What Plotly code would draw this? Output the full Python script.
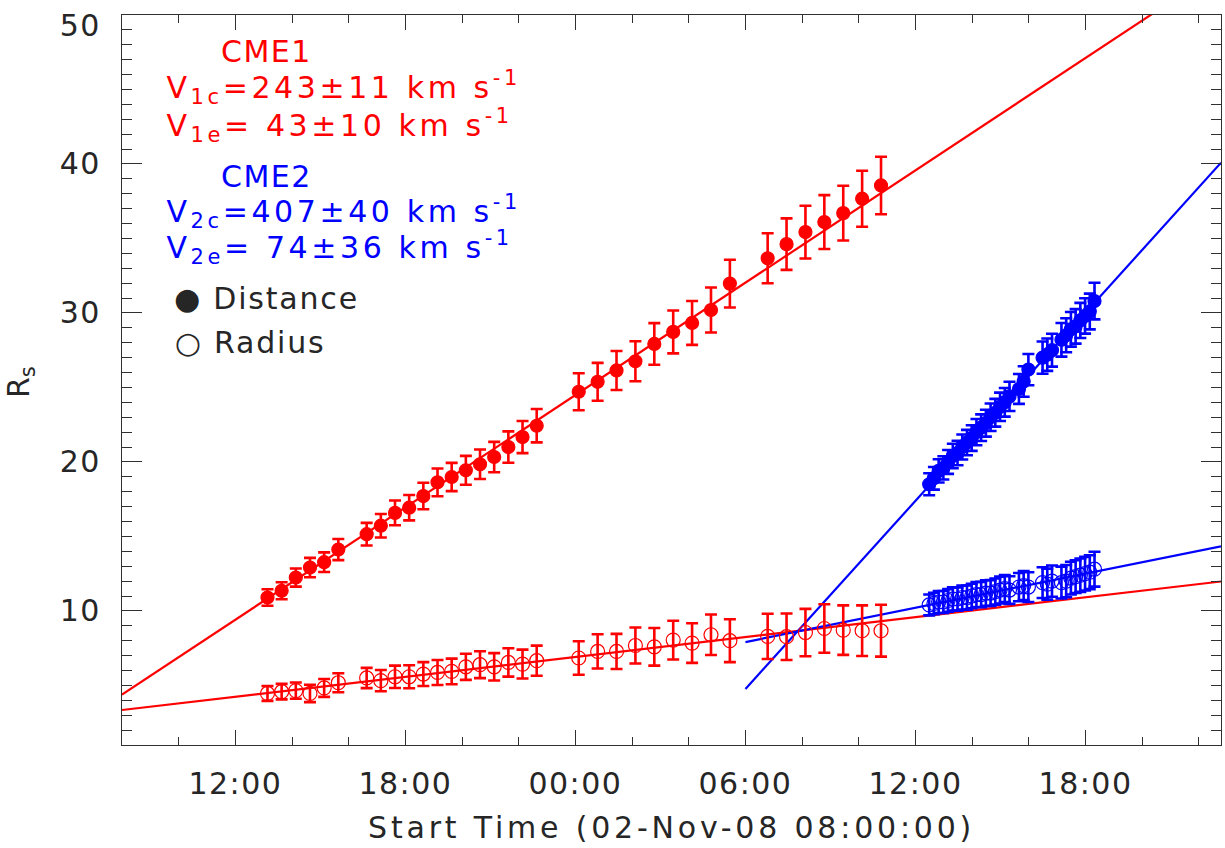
import json
import pandas as pd
import plotly.graph_objects as go

# ---------------- data ----------------
START = "2008-11-02 08:00"
X_MAX_H = 38.78            # hours after START shown on the x axis
Y_RANGE = [1, 50]

# CME1 (red) observation times
cme1_times = [
    "2008-11-02 13:08", "2008-11-02 13:38", "2008-11-02 14:08", "2008-11-02 14:38",
    "2008-11-02 15:08", "2008-11-02 15:38", "2008-11-02 16:38", "2008-11-02 17:08",
    "2008-11-02 17:38", "2008-11-02 18:08", "2008-11-02 18:38", "2008-11-02 19:08",
    "2008-11-02 19:38", "2008-11-02 20:08", "2008-11-02 20:38", "2008-11-02 21:08",
    "2008-11-02 21:38", "2008-11-02 22:08", "2008-11-02 22:38",
    "2008-11-03 00:07", "2008-11-03 00:47", "2008-11-03 01:27", "2008-11-03 02:07",
    "2008-11-03 02:47", "2008-11-03 03:27", "2008-11-03 04:07", "2008-11-03 04:47",
    "2008-11-03 05:27", "2008-11-03 06:47", "2008-11-03 07:27", "2008-11-03 08:07",
    "2008-11-03 08:47", "2008-11-03 09:27", "2008-11-03 10:07", "2008-11-03 10:47",
]
cme1_dist = [10.90, 11.35, 12.24, 12.91, 13.27, 14.12, 15.15, 15.72, 16.58, 16.93,
             17.71, 18.63, 18.99, 19.44, 19.84, 20.33, 21.00, 21.67, 22.43,
             24.71, 25.38, 26.14, 26.76, 27.92, 28.73, 29.33, 30.20, 31.97,
             33.67, 34.62, 35.43, 36.10, 36.70, 37.67, 38.56]
cme1_dist_err = [0.55, 0.57, 0.61, 0.65, 0.66, 0.71, 0.76, 0.79, 0.83, 0.85,
                 0.89, 0.93, 0.95, 0.97, 0.99, 1.02, 1.05, 1.08, 1.12,
                 1.24, 1.27, 1.31, 1.34, 1.40, 1.44, 1.47, 1.51, 1.60,
                 1.68, 1.73, 1.77, 1.81, 1.84, 1.88, 1.93]
cme1_rad = [4.46, 4.58, 4.65, 4.46, 4.83, 5.18, 5.50, 5.32, 5.58, 5.58,
            5.76, 5.87, 5.94, 6.25, 6.39, 6.25, 6.54, 6.43, 6.66,
            6.84, 7.28, 7.28, 7.68, 7.59, 8.04, 7.84, 8.40, 8.00,
            8.29, 8.27, 8.55, 8.82, 8.71, 8.67, 8.67]
cme1_rad_err = [0.50, 0.52, 0.55, 0.58, 0.60, 0.64, 0.68, 0.71, 0.75, 0.77,
                0.80, 0.84, 0.86, 0.88, 0.90, 0.92, 0.95, 0.97, 1.01,
                1.12, 1.15, 1.18, 1.21, 1.26, 1.30, 1.33, 1.36, 1.44,
                1.52, 1.56, 1.59, 1.63, 1.66, 1.70, 1.74]

# CME2 (blue) observation times
cme2_times = [
    "2008-11-03 12:29", "2008-11-03 12:39", "2008-11-03 12:49", "2008-11-03 12:59",
    "2008-11-03 13:09", "2008-11-03 13:19", "2008-11-03 13:29", "2008-11-03 13:39",
    "2008-11-03 13:49", "2008-11-03 13:59", "2008-11-03 14:09", "2008-11-03 14:19",
    "2008-11-03 14:29", "2008-11-03 14:39", "2008-11-03 14:49", "2008-11-03 14:59",
    "2008-11-03 15:09", "2008-11-03 15:19",
    "2008-11-03 15:39", "2008-11-03 15:49", "2008-11-03 15:59", "2008-11-03 16:29",
    "2008-11-03 16:39", "2008-11-03 16:49", "2008-11-03 17:09", "2008-11-03 17:19",
    "2008-11-03 17:29", "2008-11-03 17:39", "2008-11-03 17:49", "2008-11-03 17:59",
    "2008-11-03 18:09", "2008-11-03 18:19",
]
cme2_dist = [18.5, 18.9, 19.4, 19.6, 20.0, 20.4, 20.6, 21.0, 21.3, 21.6,
             22.0, 22.3, 22.6, 23.0, 23.3, 23.7, 24.0, 24.4,
             24.9, 25.4, 26.2, 27.0, 27.2, 27.5, 28.2, 28.5, 28.9, 29.1,
             29.5, 29.8, 30.1, 30.8]
cme2_dist_err = [0.74, 0.76, 0.78, 0.78, 0.80, 0.82, 0.82, 0.84, 0.85, 0.86,
                 0.88, 0.89, 0.90, 0.92, 0.93, 0.95, 0.96, 0.98,
                 1.00, 1.02, 1.05, 1.08, 1.09, 1.10, 1.13, 1.14, 1.16, 1.16,
                 1.18, 1.19, 1.20, 1.23]
cme2_rad = [10.4, 10.5, 10.6, 10.6, 10.7, 10.8, 10.8, 10.9, 10.9, 11.0,
            11.1, 11.1, 11.2, 11.2, 11.3, 11.4, 11.5, 11.4,
            11.6, 11.7, 11.6, 11.9, 11.8, 12.0, 11.9, 12.0, 12.2, 12.3,
            12.4, 12.5, 12.6, 12.8]
cme2_rad_err = [0.70, 0.72, 0.74, 0.74, 0.76, 0.78, 0.78, 0.80, 0.81, 0.82,
                0.84, 0.85, 0.86, 0.87, 0.88, 0.90, 0.91, 0.93,
                0.95, 0.97, 1.00, 1.03, 1.04, 1.05, 1.07, 1.08, 1.10, 1.10,
                1.12, 1.13, 1.14, 1.17]

# linear fits: start hour, value at start, speed (km/s)
fit_names = ["CME1 distance", "CME1 radius", "CME2 distance", "CME2 radius"]
fit_colors = ["#ff0000", "#ff0000", "#0000ff", "#0000ff"]
fit_t0_h = [0.0, 0.0, 22.0, 22.0]
fit_v0 = [4.38, 3.35, 4.76, 7.91]
fit_speed_kms = [243, 43, 407, 74]

x_tick_vals = [4, 10, 16, 22, 28, 34]
x_tick_text = ["12:00", "18:00", "00:00", "06:00", "12:00", "18:00"]
y_tick_vals = [10, 20, 30, 40, 50]
y_tick_text = ["10", "20", "30", "40", "50"]

RED = "#ff0000"
BLUE = "#0000ff"
FONT = "DejaVu Sans"
AXC = "#303030"
TXT = "#262626"

# ---------------- helpers ----------------
t0 = pd.Timestamp(START)


def to_hours(times):
    return list((pd.to_datetime(times) - t0) / pd.Timedelta(hours=1))


RSUN_KM = 696000.0

W, H = 1225, 848
ML, MR, MT, MB = 122, 4, 15, 103
PW, PH = W - ML - MR, H - MT - MB


def px(x):
    return (x - ML) / PW


def py(y):
    return (H - MB - y) / PH


fig = go.Figure()

# fit lines
for name, col, ts, v0, sp in zip(fit_names, fit_colors, fit_t0_h, fit_v0, fit_speed_kms):
    slope = sp * 3600.0 / RSUN_KM
    xs = [ts, X_MAX_H]
    ys = [v0 + slope * (x - ts) for x in xs]
    fig.add_trace(go.Scatter(x=xs, y=ys, mode="lines", line=dict(color=col, width=2.2),
                             name=name, showlegend=False, hoverinfo="skip"))

series = [
    (cme1_times, cme1_dist, cme1_dist_err, RED, "circle"),
    (cme1_times, cme1_rad, cme1_rad_err, RED, "circle-open"),
    (cme2_times, cme2_dist, cme2_dist_err, BLUE, "circle"),
    (cme2_times, cme2_rad, cme2_rad_err, BLUE, "circle-open"),
]
for times, vals, errs, col, sym in series:
    fig.add_trace(go.Scatter(
        x=to_hours(times), y=vals, mode="markers",
        marker=dict(symbol=sym, size=13 if sym == "circle" else 14, color=col,
                    line=dict(color=col, width=1.2)),
        error_y=dict(type="data", array=errs, visible=True, color=col,
                     thickness=2.6, width=6),
        showlegend=False,
    ))

axis_common = dict(
    showline=True, linecolor=AXC, linewidth=1.3, mirror="allticks",
    ticks="inside", tickcolor=AXC, tickwidth=1.3,
    showgrid=False, zeroline=False, automargin=False,
    ticklabeloverflow="allow",
    tickfont=dict(family=FONT, size=30, color=TXT),
)

fig.update_xaxes(range=[0, X_MAX_H], tickmode="array", tickvals=x_tick_vals,
                 ticktext=x_tick_text, ticklen=15, ticklabelstandoff=12,
                 minor=dict(tickmode="linear", tick0=0, dtick=2, ticks="inside",
                            ticklen=8, tickcolor=AXC, tickwidth=1.3),
                 **axis_common)
fig.update_yaxes(range=Y_RANGE, tickmode="array", tickvals=y_tick_vals,
                 ticktext=y_tick_text, ticklen=20, ticklabelstandoff=14,
                 minor=dict(tickmode="linear", tick0=0, dtick=1, ticks="inside",
                            ticklen=10, tickcolor=AXC, tickwidth=1.3),
                 **axis_common)

# (text, colour, centre x px, centre y px, letter spacing px)
annots = [
    ("CME1", RED, 266, 52, 1.5),
    ("V<sub>1c</sub>=243±11 km s<sup>-1</sup>", RED, 343, 88, 3.6),
    ("V<sub>1e</sub>= 43±10 km s<sup>-1</sup>", RED, 339, 126, 3.6),
    ("CME2", BLUE, 266, 177, 1.5),
    ("V<sub>2c</sub>=407±40 km s<sup>-1</sup>", BLUE, 343, 211, 3.6),
    ("V<sub>2e</sub>= 74±36 km s<sup>-1</sup>", BLUE, 339, 247, 3.6),
    ("● Distance", TXT, 266, 298, 1.8),
    ("○ Radius", TXT, 250, 342, 1.8),
    ("Start Time (02-Nov-08 08:00:00)", TXT, 671, 828, 3.8),
]
spacing = []
for txt, col, x, y, ls in annots:
    fig.add_annotation(text=txt, x=px(x), y=py(y), xref="paper", yref="paper",
                       xanchor="center", yanchor="middle", showarrow=False,
                       font=dict(family=FONT, size=30, color=col))
    spacing.append(ls)

fig.add_annotation(text="R<sub>s</sub>", x=px(20), y=py(382), xref="paper", yref="paper",
                   xanchor="center", yanchor="middle", textangle=-90, showarrow=False,
                   font=dict(family=FONT, size=30, color=TXT))
spacing.append(0)

fig.update_layout(
    width=W, height=H, margin=dict(l=ML, r=MR, t=MT, b=MB, autoexpand=False),
    paper_bgcolor="white", plot_bgcolor="white", showlegend=False,
)

post_js = """
document.documentElement.style.margin = '0';
document.documentElement.style.padding = '0';
document.body.style.margin = '0';
document.body.style.padding = '0';
document.body.style.overflow = 'hidden';
var ls = %s;
var gd = document.getElementById('{plot_id}');
function applyLS() {
  var groups = gd.querySelectorAll('g.annotation');
  groups.forEach(function(g) {
    var i = parseInt(g.getAttribute('data-index'));
    var t = g.querySelector('text.annotation-text');
    if (t && ls[i]) { t.style.letterSpacing = ls[i] + 'px'; }
  });
  gd.querySelectorAll('g.xtick text, g.ytick text').forEach(function(t) {
    t.style.letterSpacing = '1.5px';
  });
  /* keep the top label ("50") inside the page, as in the original figure */
  gd.querySelectorAll('g.ytick text').forEach(function(t) {
    if (t.textContent === '50' && !t.getAttribute('data-shifted')) {
      t.setAttribute('y', parseFloat(t.getAttribute('y') || 0) + 10);
      t.setAttribute('data-shifted', '1');
    }
  });
}
applyLS();
gd.on('plotly_afterplot', applyLS);
""" % json.dumps(spacing)

fig.write_html("out.html", post_script=post_js, config={"displayModeBar": False})
